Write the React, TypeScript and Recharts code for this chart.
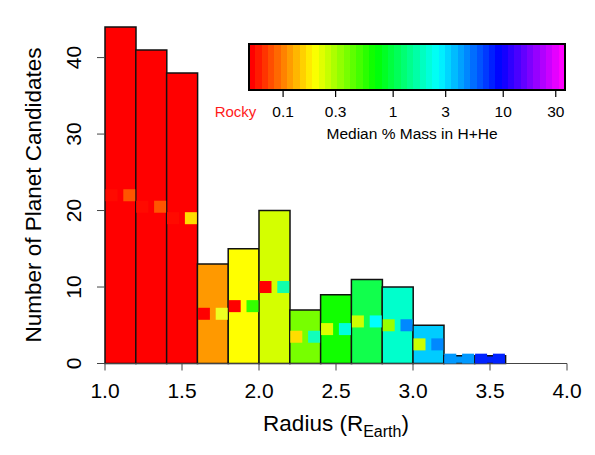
import { ComposedChart, Bar, Cell, Scatter, XAxis, YAxis, ReferenceArea } from 'recharts';

// histogram bins (radius, R_Earth)
const binStarts = [1.0, 1.2, 1.4, 1.6, 1.8, 2.0, 2.2, 2.4, 2.6, 2.8, 3.0, 3.2, 3.4, 3.6, 3.8];
const binWidth = 0.2;
const counts = [44, 41, 38, 13, 15, 20, 7, 9, 11, 10, 5, 1, 1, 0, 0];
const binColors = ['#ff0000', '#ff0000', '#ff0000', '#ff9900', '#ffff00', '#d4ff00', '#77ff00', '#11ff00', '#11ff4c', '#00ffcc', '#00ccff', '#0099ff', '#0022ff', '#ffffff', '#ffffff'];
// colour of the lower / upper estimate squares in each bin
const lowColors = ['#ff0a00', '#ff0a00', '#ff0a00', '#ff0000', '#ff0000', '#ff0000', '#ffdd00', '#ddff00', '#ccff00', '#99ff00', '#ccff00', '#0099ff', '#0022ff'];
const highColors = ['#ff5500', '#ff5500', '#ffdd00', '#eeff22', '#33ff00', '#11ffaa', '#11ffbb', '#00ffdd', '#00ffff', '#0088ff', '#0088ff', '#0099ff', '#0022ff'];

const xTicks = [1.0, 1.5, 2.0, 2.5, 3.0, 3.5, 4.0];
const yTicks = [0, 10, 20, 30, 40];

// colour bar (median % mass in H+He, log scale)
const massTicks = ['0.1', '0.3', '1', '3', '10', '30'];
const massRange = [0.049, 36.4];

const bins = binStarts.map((s, i) => ({ label: s.toFixed(1), count: counts[i], color: binColors[i] }));

const squares = binStarts.flatMap((s, i) =>
  counts[i] > 0
    ? [
        { x: s, y: counts[i] / 2, side: 'L', color: lowColors[i] },
        { x: s + binWidth, y: counts[i] / 2, side: 'R', color: highColors[i] },
      ]
    : []
);

const cbData = massTicks.map((t) => ({ pos: Math.log10(Number(t)) }));
const cbDomain = [Math.log10(massRange[0]), Math.log10(massRange[1])];
const massLabel = (v: number) => massTicks[cbData.findIndex((d) => Math.abs(d.pos - v) < 1e-9)] ?? '';

const rainbowStops = Array.from({ length: 50 }).flatMap((_, i) => {
  const c = `hsl(${(i / 49) * 300}, 100%, 50%)`;
  return [
    <stop key={`a${i}`} offset={`${(i / 50) * 100}%`} stopColor={c} />,
    <stop key={`b${i}`} offset={`${((i + 1) / 50) * 100}%`} stopColor={c} />,
  ];
});

const Square = (p: any) => {
  const { cx, cy, payload } = p;
  const x = payload.side === 'L' ? cx + 0.5 : cx - 12.5;
  return <rect x={x} y={cy - 6} width={12} height={12} fill={payload.color} clipPath="url(#plotClip)" />;
};

const YTick = (p: any) => {
  const bx = p.x - 14;
  return (
    <text x={bx} y={p.y} transform={`rotate(-90, ${bx}, ${p.y})`} textAnchor="middle" fontSize={21} fill="#000">
      {p.payload.value}
    </text>
  );
};

// colour-bar tick: short mark under the box plus the label
const CbTick = (p: any) => (
  <g>
    <line x1={p.x} x2={p.x} y1={p.y - 16} y2={p.y - 9} stroke="#000" strokeWidth={1.2} />
    <text x={p.x} y={p.y + 11} textAnchor="middle" fontSize={15.5} fill="#000">
      {massLabel(p.payload.value)}
    </text>
  </g>
);

const font = '"Liberation Sans", Arial, Helvetica, sans-serif';

const App = () => {
  return (
    <div style={{ position: 'absolute', left: 0, top: 0, width: 595, height: 455, fontFamily: font, background: '#fff' }}>
      <ComposedChart
        width={595}
        height={455}
        data={bins}
        margin={{ top: 27, right: 28, bottom: 0, left: 0 }}
        barCategoryGap={0}
        barGap={0}
      >
        <defs>
          <clipPath id="plotClip">
            <rect x={105} y={0} width={462} height={363.5} />
          </clipPath>
        </defs>
        <XAxis xAxisId="cat" dataKey="label" hide height={0} />
        <XAxis
          xAxisId="num"
          type="number"
          dataKey="x"
          domain={[1, 4]}
          allowDataOverflow
          ticks={xTicks}
          interval={0}
          tickFormatter={(v: number) => v.toFixed(1)}
          height={91.5}
          stroke="#444"
          tickSize={7}
          tickMargin={12.5}
          tick={{ fill: '#000', fontSize: 21 }}
        />
        <YAxis
          domain={[0, 44]}
          ticks={yTicks}
          interval={0}
          width={105}
          axisLine={false}
          tickSize={8}
          stroke="#444"
          tickLine={{ stroke: '#444' }}
          tick={<YTick />}
        />
        <Bar xAxisId="cat" dataKey="count" stroke="#111" strokeWidth={1.5} isAnimationActive={false}>
          {bins.map((b, i) => (
            <Cell key={i} fill={b.color} />
          ))}
        </Bar>
        <Scatter xAxisId="num" data={squares} dataKey="y" shape={<Square />} isAnimationActive={false} />
        <text x={41} y={195} transform="rotate(-90, 41, 195)" textAnchor="middle" fontSize={22.5} fill="#000">
          Number of Planet Candidates
        </text>
        <text x={336} y={431} textAnchor="middle" fontSize={22.5} fill="#000">
          Radius (R
          <tspan fontSize={16} dy={6}>
            Earth
          </tspan>
          <tspan dy={-6}>)</tspan>
        </text>
      </ComposedChart>

      <div style={{ position: 'absolute', left: 0, top: 0, pointerEvents: 'none' }}>
        <ComposedChart width={595} height={150} data={cbData} margin={{ top: 44, right: 30, bottom: 0, left: 249 }}>
          <defs>
            <linearGradient id="rainbow" x1="0" x2="1" y1="0" y2="0">
              {rainbowStops}
            </linearGradient>
          </defs>
          <XAxis
            type="number"
            dataKey="pos"
            domain={cbDomain}
            allowDataOverflow
            ticks={cbData.map((d) => d.pos)}
            interval={0}
            height={60}
            axisLine={false}
            tickLine={false}
            tickSize={6}
            tickMargin={10}
            tick={<CbTick />}
          />
          <YAxis hide type="number" domain={[0, 1]} allowDataOverflow />
          <ReferenceArea
            x1={cbDomain[0]}
            x2={cbDomain[1]}
            y1={0}
            y2={1}
            ifOverflow="visible"
            fill="url(#rainbow)"
            fillOpacity={1}
            stroke="#000"
            strokeWidth={2}
          />
          <text x={235.5} y={116.7} textAnchor="middle" fontSize={15} fill="#ff1a1a">
            Rocky
          </text>
          <text x={412} y={139} textAnchor="middle" fontSize={15.5} fill="#000">
            Median % Mass in H+He
          </text>
        </ComposedChart>
      </div>
    </div>
  );
};

export default App;
